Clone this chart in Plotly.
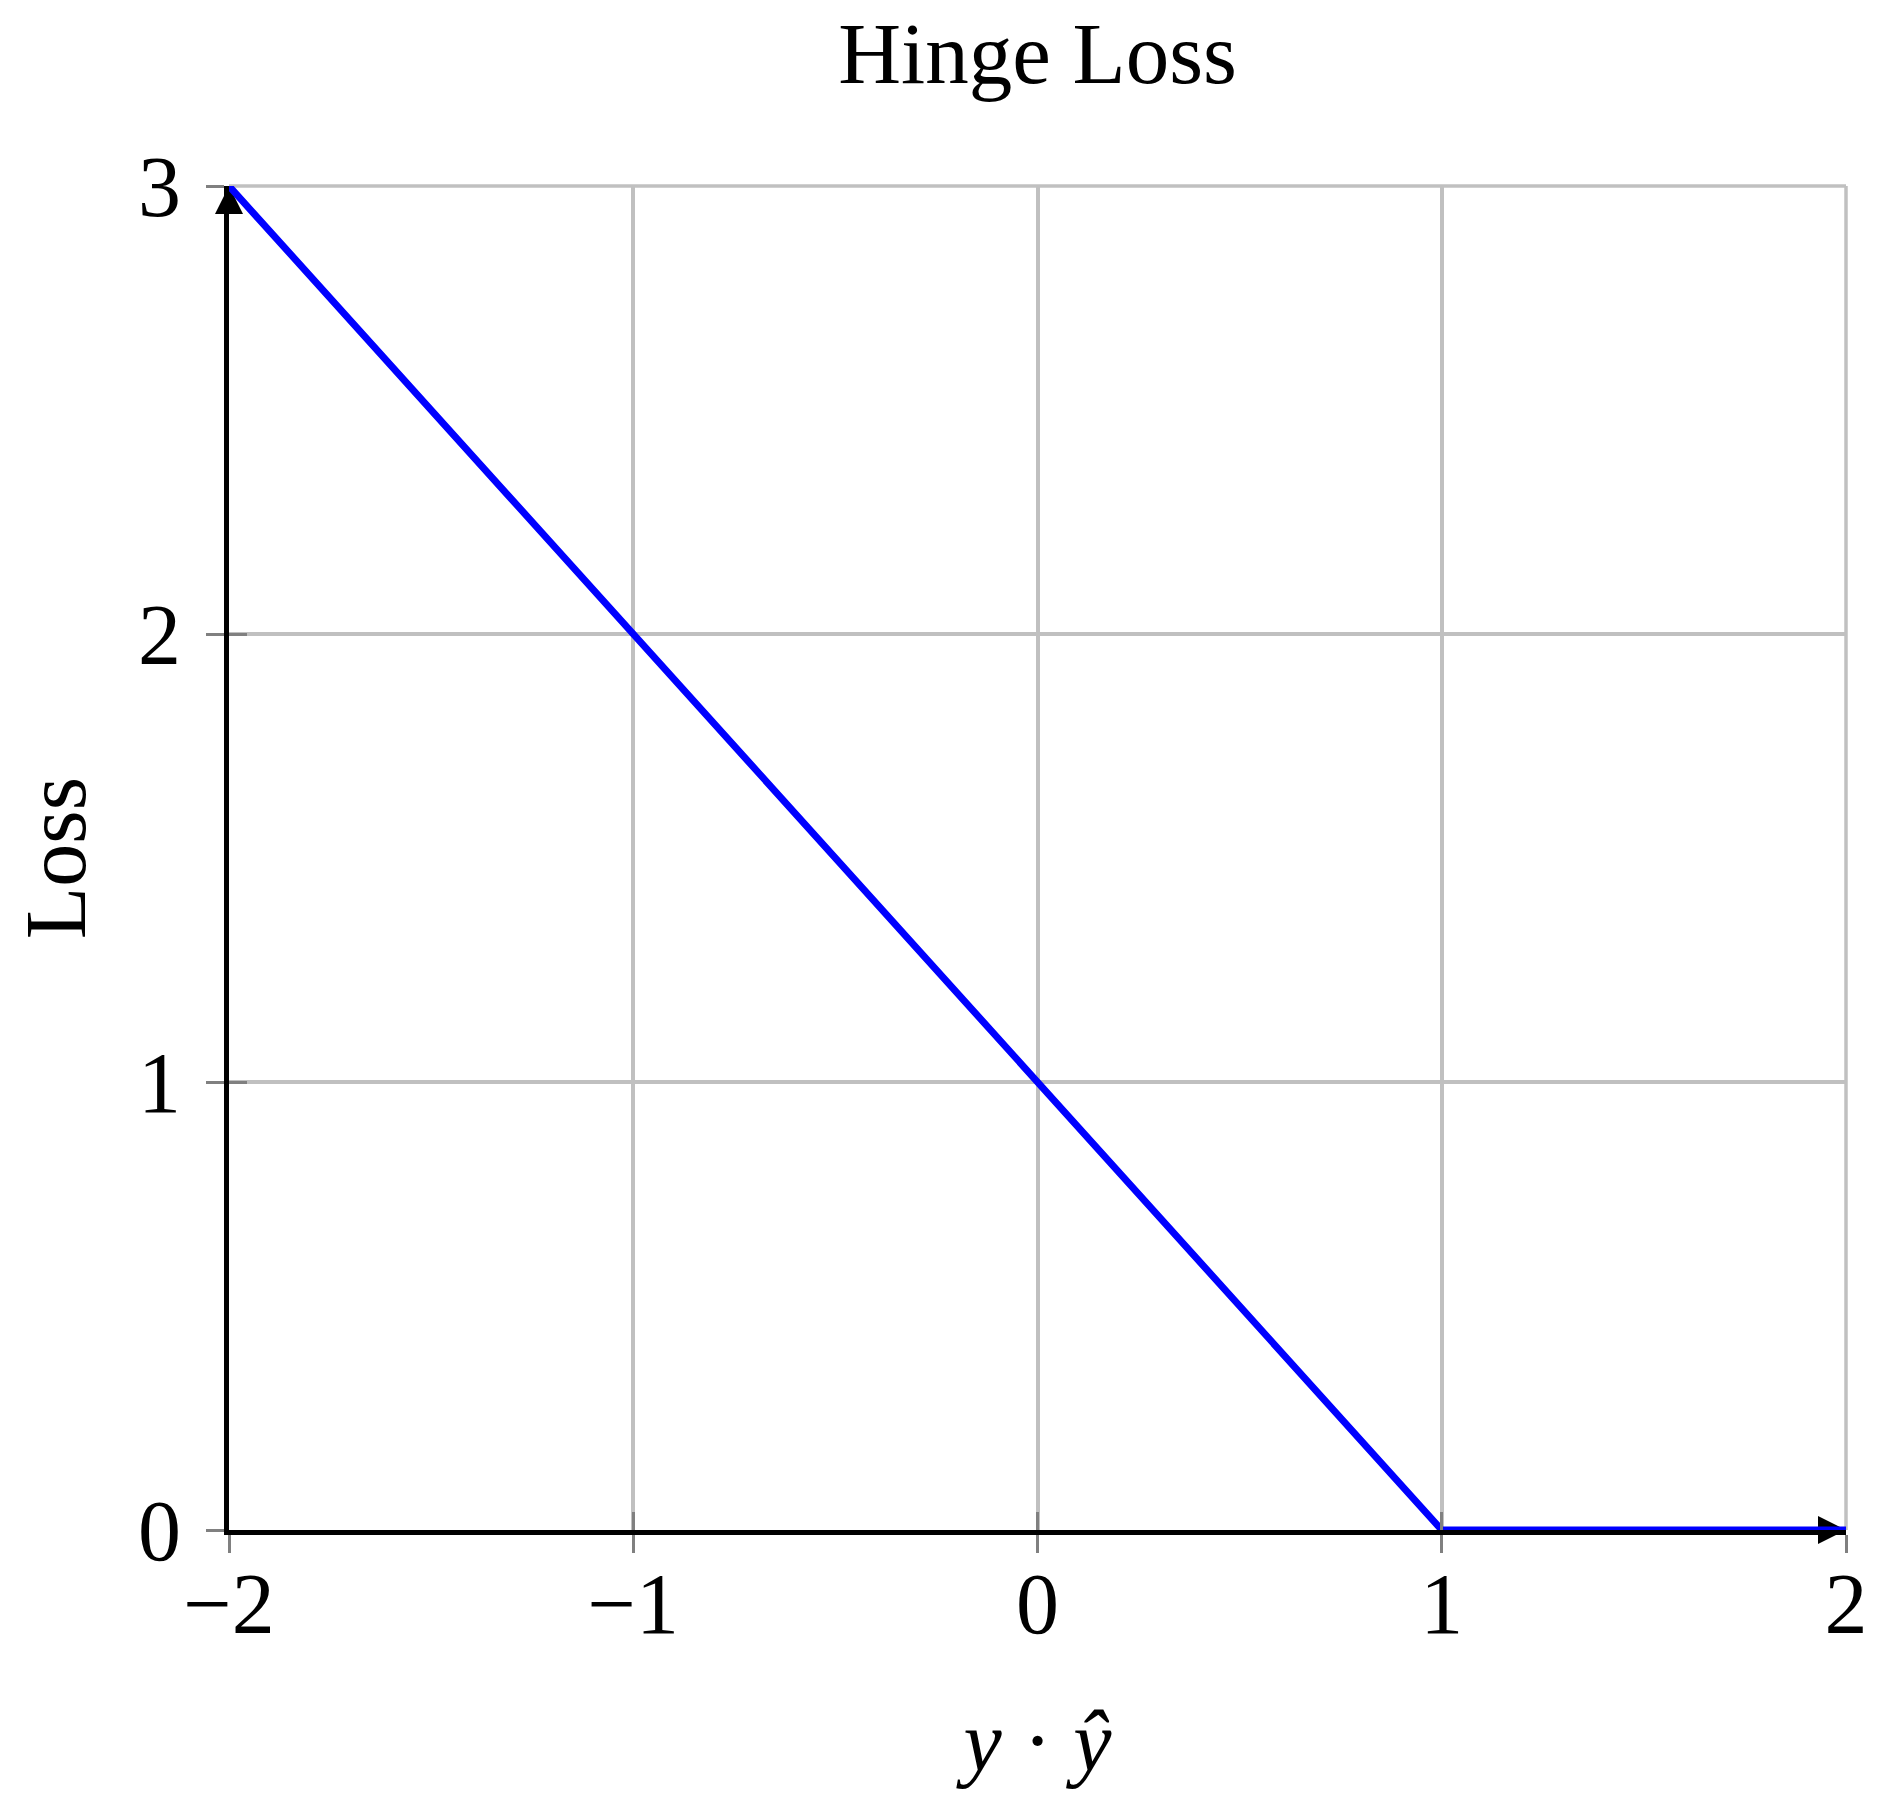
import plotly.graph_objects as go

# hinge loss max(0, 1 - y*yhat), drawn on [-2, 2]
margin = [-2, 1, 2]
loss = [3, 0, 0]

x_ticks = [-2, -1, 0, 1, 2]
y_ticks = [0, 1, 2, 3]

FONT = "Liberation Serif"
GRID = "#c0c0c0"
TICK = "#808080"

fig = go.Figure()

# axis arrow heads, drawn under the curve
fig.add_trace(go.Scatter(
    x=[x_ticks[-1], x_ticks[0]], y=[0, y_ticks[-1]],
    mode="markers",
    marker=dict(symbol=["arrow-right", "arrow-up"], size=28, color="black"),
    cliponaxis=False, hoverinfo="skip", showlegend=False,
))

fig.add_trace(go.Scatter(
    x=margin, y=loss,
    mode="lines",
    line=dict(color="#0000ff", width=7),
    showlegend=False,
))

# empty trace so the overlay axes (inner tick marks) get drawn
fig.add_trace(go.Scatter(x=[None], y=[None], xaxis="x2", yaxis="y2",
                         showlegend=False, hoverinfo="skip"))

axis_common = dict(
    showgrid=True, gridcolor=GRID, gridwidth=3.5,
    zeroline=False,
    showline=True, linecolor="black", linewidth=4.5,
    ticks="outside", ticklen=18, tickwidth=3, tickcolor=TICK,
    tickfont=dict(family=FONT, size=86, color="black"),
    layer="below traces",
)

fig.update_layout(
    width=1884, height=1808,
    margin=dict(l=221, r=46, t=178, b=286),
    plot_bgcolor="white", paper_bgcolor="white",
    title=dict(
        text="Hinge Loss",
        font=dict(family=FONT, size=87, color="black"),
        x=0.5, xanchor="center", xref="paper",
        y=1 - 14 / 1808, yref="container", yanchor="top",
    ),
    xaxis=dict(
        range=[-2, 2], tickvals=x_ticks,
        title=dict(text="<i>y</i> · <i>ŷ</i>",
                   font=dict(family=FONT, size=86, color="black"),
                   standoff=60),
        ticklabelstandoff=-23,
        **axis_common,
    ),
    yaxis=dict(
        range=[0, 3], tickvals=y_ticks,
        title=dict(text="Loss",
                   font=dict(family=FONT, size=86, color="black"),
                   standoff=42),
        ticklabelstandoff=8,
        **axis_common,
    ),
    xaxis2=dict(
        overlaying="x", matches="x", tickvals=x_ticks,
        ticks="inside", ticklen=18, tickwidth=3, tickcolor=TICK,
        showticklabels=False, showgrid=False, zeroline=False, showline=False,
    ),
    yaxis2=dict(
        overlaying="y", matches="y", tickvals=y_ticks,
        ticks="inside", ticklen=18, tickwidth=3, tickcolor=TICK,
        showticklabels=False, showgrid=False, zeroline=False, showline=False,
    ),
    shapes=[
        dict(type="line", xref="paper", yref="paper", x0=0, x1=1, y0=1, y1=1,
             line=dict(color=GRID, width=3.5), layer="below"),
        dict(type="line", xref="paper", yref="paper", x0=1, x1=1, y0=0, y1=1,
             line=dict(color=GRID, width=3.5), layer="below"),
    ],
)

fig.write_html("out.html")
